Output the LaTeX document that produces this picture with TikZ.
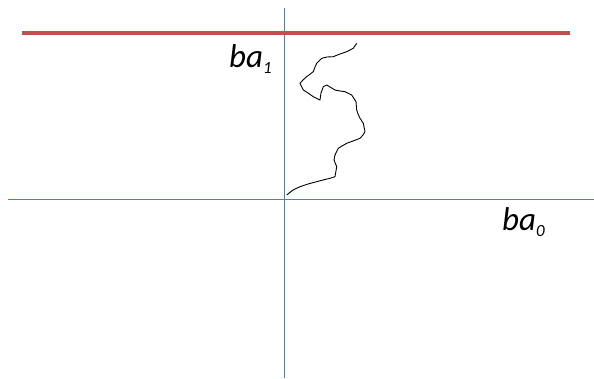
\documentclass[tikz,border=0pt]{standalone}
\usepackage{fontspec}
\setmainfont{Carlito}
\newcommand{\mysub}[1]{\raisebox{-6pt}{\fontsize{17}{17}\selectfont #1}}
\begin{document}
\begin{tikzpicture}[x=1pt,y=-1pt,
  axis/.style={draw={rgb,255:red,74;green,126;blue,193},line width=1pt},
  barrier/.style={draw={rgb,255:red,192;green,80;blue,77},line width=4pt},
  lbl/.style={font=\fontsize{33}{35}\selectfont\itshape,inner sep=0pt}]
\useasboundingbox (0,0) rectangle (594,379);
\coordinate (vtop) at (284,8);
\coordinate (vbot) at (284,378);
\coordinate (hl) at (8,200);
\coordinate (hr) at (594,200);
\coordinate (rl) at (22,33);
\coordinate (rr) at (570,33);
\draw[axis] (vtop) -- (vbot);
\draw[axis] (hl) -- (hr);
\draw[barrier] (rl) -- (rr);
\coordinate (start) at (286.7,195);
\draw[draw=black,line width=0.9pt,line join=round] (start) -- (293,190) -- (300,186.7) -- (308,184) -- (316.7,181.7) -- (323,180) -- (330,178.3) -- (335,176.7) -- (336.7,166.7) -- (334,160) -- (335,155) -- (338.3,148.3) -- (342,146) -- (346.7,143.3) -- (353,141) -- (360,138.3) -- (363,135) -- (365,131.7) -- (363.3,123.3) -- (360,118.3) -- (358,114) -- (356.7,110) -- (356,101.7) -- (351.7,95) -- (345,91.7) -- (340,91) -- (335,90) -- (330,87) -- (326.7,85) -- (323.3,86.7) -- (321,93) -- (320,100) -- (313.3,96.7) -- (308,93) -- (303.3,90) -- (300,83.3) -- (303,80) -- (306.7,76.7) -- (313.3,71.7) -- (315,67) -- (316.7,63.3) -- (321.7,58.3) -- (327,57) -- (333.3,56.7) -- (340,54) -- (346.7,51.7) -- (353.3,48.3) -- (356.7,43.3);
\node[lbl,anchor=base west] (ba1) at (229,68) {ba\mysub{1}};
\node[lbl,anchor=base west] (ba0) at (502,231) {ba\mysub{0}};
\end{tikzpicture}
\end{document}
